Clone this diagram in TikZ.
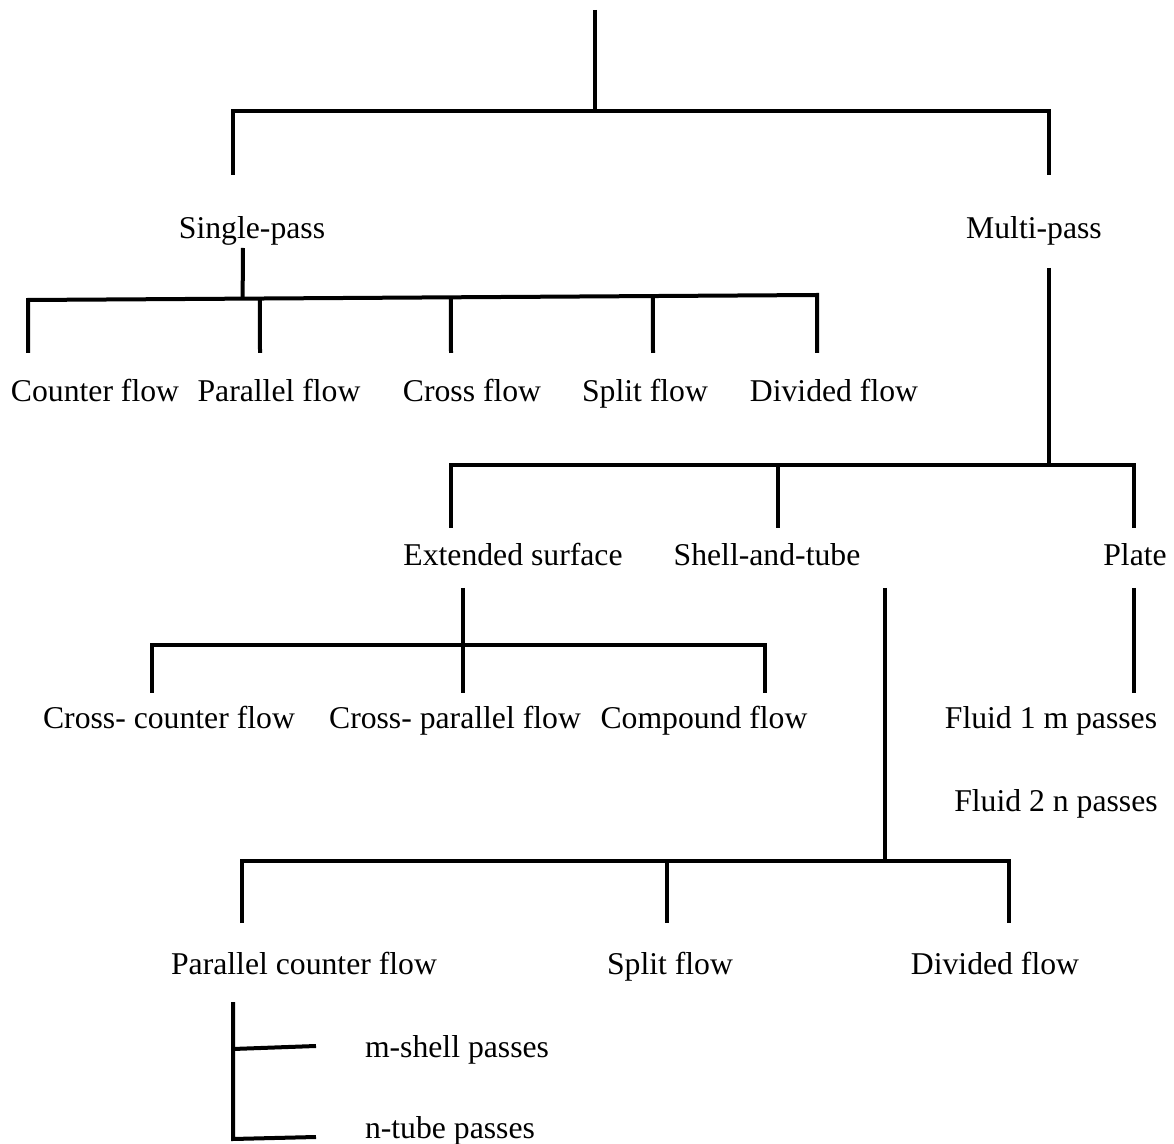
\documentclass[tikz,border=0pt]{standalone}
\usepackage{fontspec}
\setmainfont{Liberation Serif}
\usetikzlibrary{calc}

\begin{document}
\begin{tikzpicture}[x=0.5pt,y=-0.5pt,line width=2pt]
\tikzstyle{every node}+=[inner sep=0pt,font=\fontsize{15.85}{19}\selectfont]
\tikzstyle{lbl}=[anchor=base]
\useasboundingbox (0,0) rectangle (1174,1144);
% labels
\node[lbl] (single) at (252,239) {Single-pass};
\node[lbl] (multi) at (1034,239) {Multi-pass};
\node[lbl] (counter) at (95,402) {Counter flow};
\node[lbl] (parallel) at (279,402) {Parallel flow};
\node[lbl] (cross) at (472,402) {Cross flow};
\node[lbl] (split) at (645,402) {Split flow};
\node[lbl] (divided) at (834,402) {Divided flow};
\node[lbl] (extended) at (513,566) {Extended surface};
\node[lbl] (shell) at (767,566) {Shell-and-tube};
\node[lbl] (plate) at (1135,566) {Plate};
\node[lbl] (crosscounter) at (169,729) {Cross- counter flow};
\node[lbl] (crossparallel) at (455,729) {Cross- parallel flow};
\node[lbl] (compound) at (704,729) {Compound flow};
\node[lbl] (fluida) at (1051,729) {Fluid 1 m passes};
\node[lbl] (fluidb) at (1056,812) {Fluid 2 n passes};
\node[lbl] (parcounter) at (304,974) {Parallel counter flow};
\node[lbl] (splitb) at (670,974) {Split flow};
\node[lbl] (dividedb) at (995,974) {Divided flow};
\node[anchor=base west] (mshell) at (363,1057) {m-shell passes};
\node[anchor=base west] (ntube) at (363,1138) {n-tube passes};
% junction points
\coordinate (root) at (595,10);
\coordinate (rootj) at (595,111);
\coordinate (b1l) at (233,111);
\coordinate (b1r) at (1049,111);
\coordinate (b1la) at (233,175);
\coordinate (b1ra) at (1049,175);
\coordinate (sp1) at (243,248);
\coordinate (b2l) at (28,300);
\coordinate (b2r) at (817,295);
\coordinate (b2la) at (28,353);
\coordinate (b2ra) at (817,353);
\coordinate (mp1) at (1049,268);
\coordinate (mp2) at (1049,465);
\coordinate (b3l) at (451,465);
\coordinate (b3r) at (1134,465);
\coordinate (b3la) at (451,528);
\coordinate (b3ra) at (1134,528);
\coordinate (b3m) at (778,465);
\coordinate (b3ma) at (778,528);
\coordinate (es1) at (463,588);
\coordinate (es2) at (463,693);
\coordinate (b4l) at (152,645);
\coordinate (b4r) at (765,645);
\coordinate (b4la) at (152,693);
\coordinate (b4ra) at (765,693);
\coordinate (pl1) at (1134,588);
\coordinate (pl2) at (1134,693);
\coordinate (st1) at (885,588);
\coordinate (st2) at (885,861);
\coordinate (b5l) at (242,861);
\coordinate (b5r) at (1009,861);
\coordinate (b5la) at (242,923);
\coordinate (b5ra) at (1009,923);
\coordinate (b5m) at (667,861);
\coordinate (b5ma) at (667,923);
\coordinate (br1) at (233,1002);
\coordinate (br2) at (233,1049);
\coordinate (br3) at (233,1139);
\coordinate (brm) at (316,1046);
\coordinate (brn) at (316,1137);
% tree
\draw [black] (root) -- (rootj);
\draw [black] (b1la) -- (b1l) -- (b1r) -- (b1ra);
\draw [black] (sp1) -- ($(b2l)!0.272!(b2r)$);
\draw [black] (b2la) -- (b2l) -- (b2r) -- (b2ra);
\draw [black] ($(b2l)!0.294!(b2r)$) -- (260,353);
\draw [black] ($(b2l)!0.536!(b2r)$) -- (451,353);
\draw [black] ($(b2l)!0.792!(b2r)$) -- (653,353);
\draw [black] (mp1) -- (mp2);
\draw [black] (b3la) -- (b3l) -- (b3r) -- (b3ra);
\draw [black] (b3m) -- (b3ma);
\draw [black] (es1) -- (es2);
\draw [black] (b4la) -- (b4l) -- (b4r) -- (b4ra);
\draw [black] (pl1) -- (pl2);
\draw [black] (st1) -- (st2);
\draw [black] (b5la) -- (b5l) -- (b5r) -- (b5ra);
\draw [black] (b5m) -- (b5ma);
\draw [black] (br1) -- (br3) -- (brn);
\draw [black] (br2) -- (brm);
\end{tikzpicture}
\end{document}
